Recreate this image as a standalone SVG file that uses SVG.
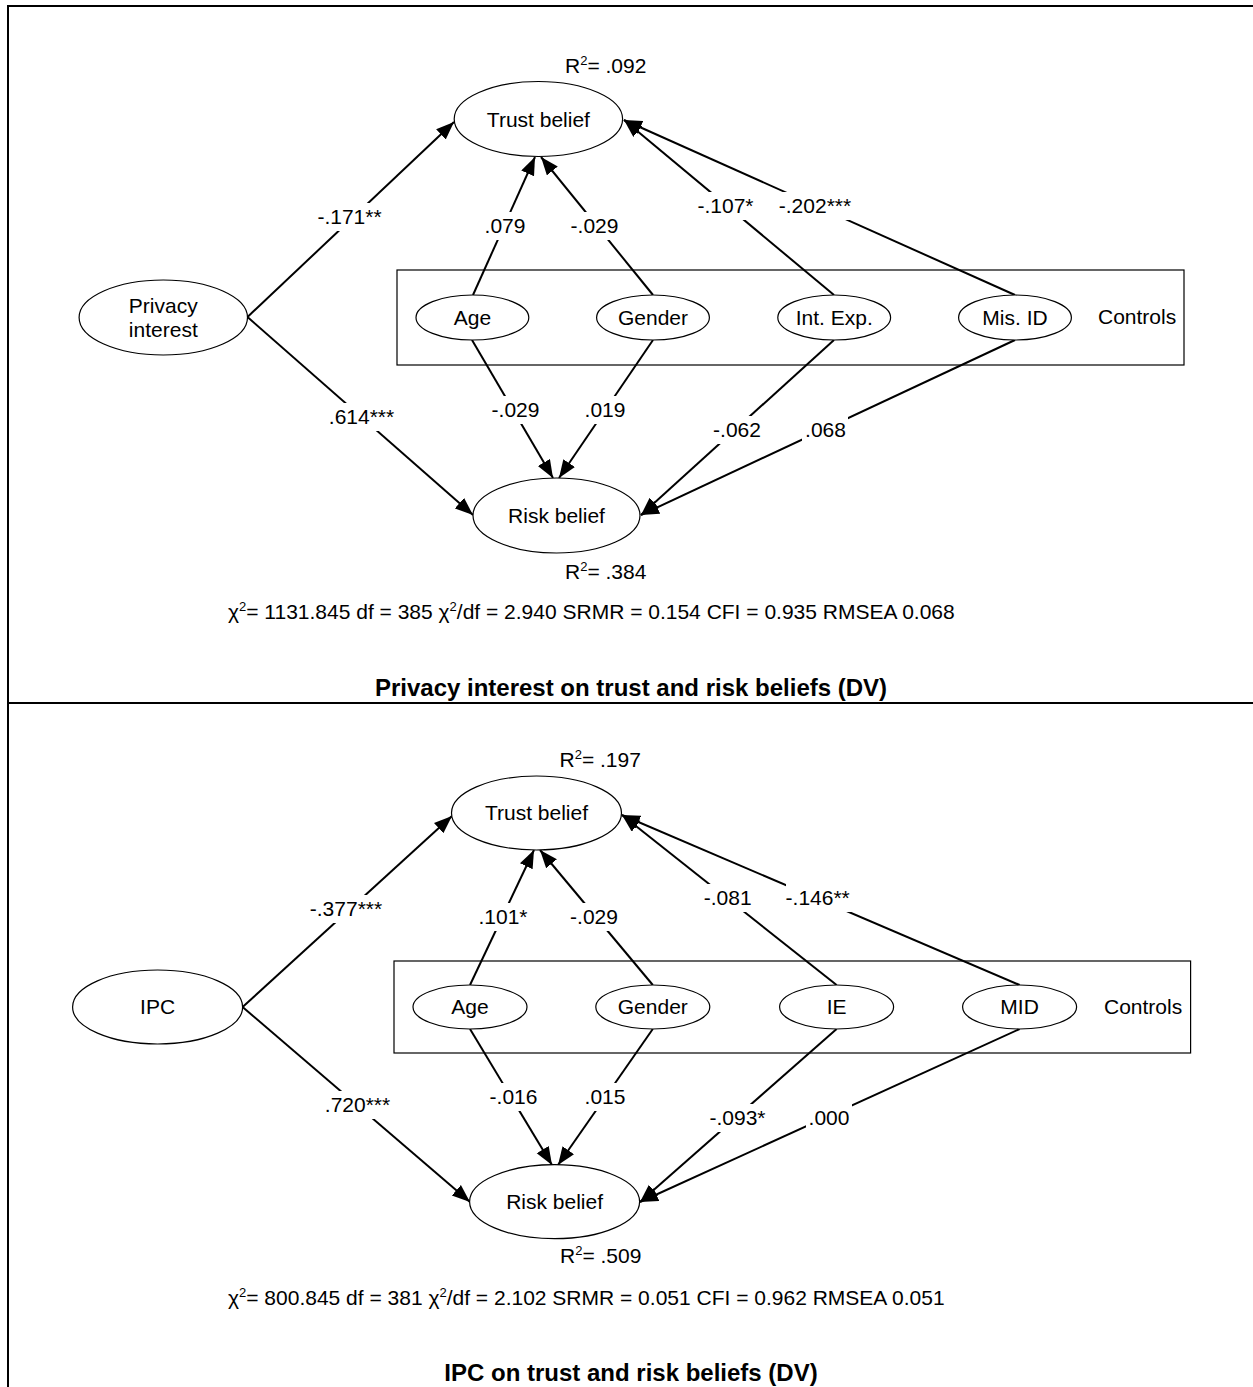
<svg xmlns="http://www.w3.org/2000/svg" width="1253" height="1387" viewBox="0 0 1253 1387">
<defs>
<style>
text{font-family:"Liberation Sans",Arial,sans-serif;font-size:21px;fill:#000}
.c{text-anchor:middle}
.t{font-weight:bold;font-size:24px;text-anchor:middle}
.node{fill:#fff;stroke:#000;stroke-width:1.2}
.frame{stroke:#000;stroke-width:2;fill:none}
.box{fill:none;stroke:#000;stroke-width:1.2}
.edge{stroke:#000;stroke-width:2;fill:none;marker-end:url(#ah)}
.bg{fill:#fff;stroke:none}
</style>
<marker id="ah" markerUnits="userSpaceOnUse" markerWidth="20" markerHeight="15" refX="18" refY="7" orient="auto">
<path d="M0,0 L18,7 L0,14 z" fill="#000"/>
</marker>
</defs>
<rect width="1253" height="1387" fill="#fff"/>
<g id="frame">
<line class="frame" x1="8" y1="6" x2="1253" y2="6"/>
<line class="frame" x1="8" y1="5" x2="8" y2="1387"/>
<line class="frame" x1="8" y1="703" x2="1253" y2="703"/>
</g>

<!-- Panel 1 -->
<g id="controls-box-1"><rect class="box" x="397" y="270" width="787" height="95"/><text x="1098" y="324">Controls</text></g>
<g id="connectors-1">
<line class="edge" x1="247.5" y1="317" x2="454" y2="122"/>
<line class="edge" x1="247.5" y1="317" x2="473" y2="515"/>
<line class="edge" x1="473" y1="295" x2="535" y2="157"/>
<line class="edge" x1="653" y1="295" x2="541" y2="157"/>
<line class="edge" x1="834" y1="295" x2="624" y2="120"/>
<line class="edge" x1="1015" y1="295" x2="624" y2="120"/>
<line class="edge" x1="472" y1="340" x2="553" y2="478"/>
<line class="edge" x1="653" y1="340" x2="559" y2="478"/>
<line class="edge" x1="834" y1="340" x2="641" y2="515"/>
<line class="edge" x1="1015" y1="340" x2="641" y2="515"/>
<rect class="bg" x="315" y="203" width="69" height="28"/><text class="c" x="349.5" y="224">-.171**</text>
<rect class="bg" x="482" y="212" width="46" height="28"/><text class="c" x="505" y="233">.079</text>
<rect class="bg" x="568" y="212" width="53" height="28"/><text class="c" x="594.5" y="233">-.029</text>
<rect class="bg" x="695" y="192" width="61" height="28"/><text class="c" x="725.5" y="213">-.107*</text>
<rect class="bg" x="777" y="192" width="77" height="28"/><text class="c" x="815" y="213">-.202***</text>
<rect class="bg" x="327" y="403" width="70" height="28"/><text class="c" x="361.5" y="424">.614***</text>
<rect class="bg" x="489" y="396" width="53" height="28"/><text class="c" x="515.5" y="417">-.029</text>
<rect class="bg" x="582" y="396" width="46" height="28"/><text class="c" x="605" y="417">.019</text>
<rect class="bg" x="710" y="416" width="53" height="28"/><text class="c" x="737" y="437">-.062</text>
<rect class="bg" x="802" y="416" width="46" height="28"/><text class="c" x="825.5" y="437">.068</text>
</g>
<g id="trust-1"><ellipse class="node" cx="538.4" cy="119" rx="84.2" ry="37.5"/><text class="c" x="538.4" y="126.5">Trust belief</text><text x="565" y="73">R<tspan dy="-8" font-size="13">2</tspan><tspan dy="8">= .092</tspan></text></g>
<g id="privacy-1"><ellipse class="node" cx="163.3" cy="317.5" rx="84.2" ry="37.5"/><text class="c" x="163.3" y="313">Privacy</text><text class="c" x="163.3" y="337">interest</text></g>
<g id="age-1"><ellipse class="node" cx="472.4" cy="317.5" rx="56.4" ry="22.5"/><text class="c" x="472.4" y="325">Age</text></g>
<g id="gender-1"><ellipse class="node" cx="653" cy="317.5" rx="56.4" ry="22.5"/><text class="c" x="653" y="325">Gender</text></g>
<g id="intexp-1"><ellipse class="node" cx="834.2" cy="317.5" rx="56.4" ry="22.5"/><text class="c" x="834.2" y="325">Int. Exp.</text></g>
<g id="misid-1"><ellipse class="node" cx="1015" cy="317.5" rx="56.4" ry="22.5"/><text class="c" x="1015" y="325">Mis. ID</text></g>
<g id="risk-1"><ellipse class="node" cx="556.5" cy="515.5" rx="83.5" ry="37.5"/><text class="c" x="556.5" y="523">Risk belief</text><text x="565" y="579">R<tspan dy="-8" font-size="13">2</tspan><tspan dy="8">= .384</tspan></text></g>
<g id="fit-1"><text x="228" y="619">χ<tspan dy="-8" font-size="13">2</tspan><tspan dy="8">= 1131.845 df = 385 χ</tspan><tspan dy="-8" font-size="13">2</tspan><tspan dy="8">/df = 2.940 SRMR = 0.154 CFI = 0.935 RMSEA 0.068</tspan></text></g>
<g id="title-1"><text class="t" x="631" y="696">Privacy interest on trust and risk beliefs (DV)</text></g>

<!-- Panel 2 -->
<g id="controls-box-2"><rect class="box" x="394" y="961" width="796.6" height="92"/><text x="1104" y="1014">Controls</text></g>
<g id="connectors-2">
<line class="edge" x1="242.6" y1="1007" x2="452" y2="816"/>
<line class="edge" x1="242.6" y1="1007" x2="470" y2="1202"/>
<line class="edge" x1="470" y1="985" x2="534" y2="850"/>
<line class="edge" x1="652.8" y1="985" x2="540" y2="850"/>
<line class="edge" x1="836.6" y1="985" x2="622" y2="815"/>
<line class="edge" x1="1019.6" y1="985" x2="622" y2="815"/>
<line class="edge" x1="470" y1="1029" x2="552" y2="1165"/>
<line class="edge" x1="652.8" y1="1029" x2="558" y2="1165"/>
<line class="edge" x1="836.6" y1="1029" x2="640" y2="1202"/>
<line class="edge" x1="1019.6" y1="1029" x2="640" y2="1202"/>
<rect class="bg" x="308" y="895" width="77" height="28"/><text class="c" x="346" y="916">-.377***</text>
<rect class="bg" x="476" y="903" width="54" height="28"/><text class="c" x="503" y="924">.101*</text>
<rect class="bg" x="567" y="903" width="53" height="28"/><text class="c" x="594" y="924">-.029</text>
<rect class="bg" x="701" y="884" width="53" height="28"/><text class="c" x="727.7" y="905">-.081</text>
<rect class="bg" x="786" y="884" width="69" height="28"/><text class="c" x="817.7" y="905">-.146**</text>
<rect class="bg" x="323" y="1091" width="70" height="28"/><text class="c" x="357.5" y="1112">.720***</text>
<rect class="bg" x="487" y="1083" width="53" height="28"/><text class="c" x="513.5" y="1104">-.016</text>
<rect class="bg" x="582" y="1083" width="46" height="28"/><text class="c" x="605" y="1104">.015</text>
<rect class="bg" x="710" y="1104" width="61" height="28"/><text class="c" x="737.5" y="1125">-.093*</text>
<rect class="bg" x="806" y="1104" width="46" height="28"/><text class="c" x="829" y="1125">.000</text>
</g>
<g id="trust-2"><ellipse class="node" cx="536.5" cy="813" rx="85" ry="37"/><text class="c" x="536.5" y="820">Trust belief</text><text x="559.5" y="767">R<tspan dy="-8" font-size="13">2</tspan><tspan dy="8">= .197</tspan></text></g>
<g id="ipc-2"><ellipse class="node" cx="157.6" cy="1007" rx="85" ry="37"/><text class="c" x="157.6" y="1014">IPC</text></g>
<g id="age-2"><ellipse class="node" cx="470" cy="1007" rx="57" ry="22"/><text class="c" x="470" y="1014">Age</text></g>
<g id="gender-2"><ellipse class="node" cx="652.8" cy="1007" rx="57" ry="22"/><text class="c" x="652.8" y="1014">Gender</text></g>
<g id="ie-2"><ellipse class="node" cx="836.6" cy="1007" rx="57" ry="22"/><text class="c" x="836.6" y="1014">IE</text></g>
<g id="mid-2"><ellipse class="node" cx="1019.6" cy="1007" rx="57" ry="22"/><text class="c" x="1019.6" y="1014">MID</text></g>
<g id="risk-2"><ellipse class="node" cx="554.6" cy="1201.7" rx="85" ry="37"/><text class="c" x="554.6" y="1209">Risk belief</text><text x="560" y="1263">R<tspan dy="-8" font-size="13">2</tspan><tspan dy="8">= .509</tspan></text></g>
<g id="fit-2"><text x="228" y="1305">χ<tspan dy="-8" font-size="13">2</tspan><tspan dy="8">= 800.845 df = 381 χ</tspan><tspan dy="-8" font-size="13">2</tspan><tspan dy="8">/df = 2.102 SRMR = 0.051 CFI = 0.962 RMSEA 0.051</tspan></text></g>
<g id="title-2"><text class="t" x="631" y="1381">IPC on trust and risk beliefs (DV)</text></g>
</svg>
